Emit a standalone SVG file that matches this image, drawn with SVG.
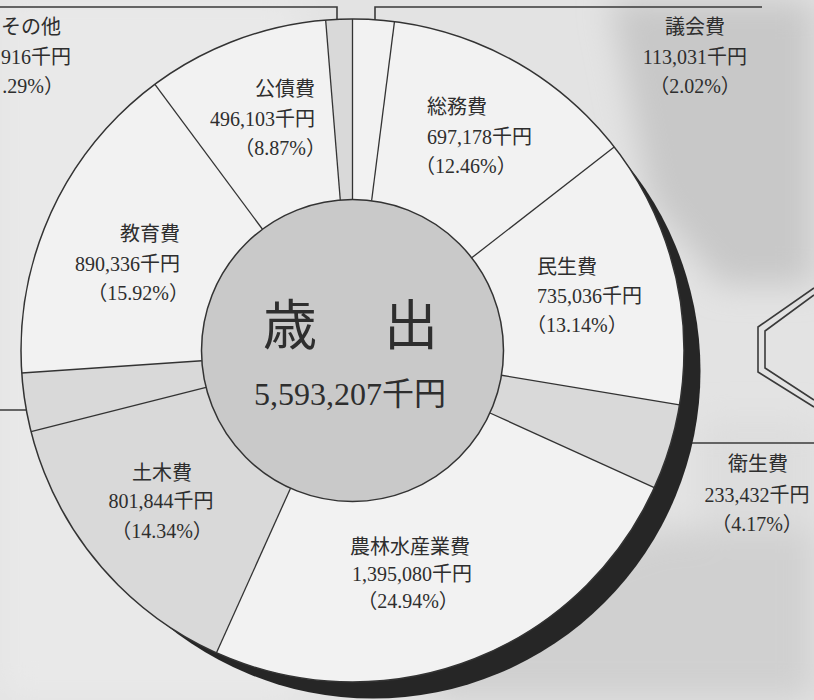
<svg xmlns="http://www.w3.org/2000/svg" width="814" height="700" viewBox="0 0 814 700">
<defs>
<filter id="blur" x="-20%" y="-20%" width="140%" height="140%"><feGaussianBlur stdDeviation="16"/></filter>
<style>
.t{font-family:"Liberation Serif","Noto Sans CJK JP",serif;font-size:20px;fill:#2e2e2e}
.m{text-anchor:middle}.e{text-anchor:end}
.ln{stroke:#333;stroke-width:1.3;fill:none}
.fr{stroke:#3a3a3a;stroke-width:1.6;fill:none}
.wh{fill:#f2f2f2}
.gr{fill:#d9d9d9}
</style>
</defs>
<rect width="814" height="700" fill="#e3e3e3"/>
<g id="background" filter="url(#blur)">
<path d="M610 0H814V285H720L650 200Z" fill="#c8c8c8"/>
<path d="M430 610L660 530H814V700H430Z" fill="#d0d0d0"/>
<rect x="700" y="420" width="114" height="110" fill="#dddddd"/>
<rect x="0" y="0" width="300" height="700" fill="#e9e9e9"/>
</g>
<g id="frames">
<polyline class="fr" points="0,7 337,7 337,30"/>
<polyline class="fr" points="375,30 375,7 762,7"/>
<line class="fr" x1="0" y1="410" x2="40" y2="410"/>
<line class="fr" x1="680" y1="443" x2="814" y2="443"/>
<polyline class="fr" points="814,288 758,327 758,372 814,407"/>
<polyline class="fr" points="814,295 765,331 765,368 814,400"/>
</g>
<g id="shadow"><circle cx="373" cy="371" r="327.5" fill="#262626"/></g>
<g id="donut">
<circle cx="352.5" cy="350.5" r="331.5" class="wh"/>
<path id="sonota-slice" class="gr" d="M325.66,20.09 A331.5,331.5 0 0 1 352.5,19 L352.5,199.5 A151,151 0 0 0 340.27,200 Z"/>
<path id="eisei-slice" class="gr" d="M679.52,404.82 A331.5,331.5 0 0 1 654.29,487.68 L489.97,412.98 A151,151 0 0 0 501.46,375.24 Z"/>
<path id="doboku-slice" class="gr" d="M216.47,652.81 A331.5,331.5 0 0 1 21.76,372.98 L201.85,360.74 A151,151 0 0 0 290.54,488.2 Z"/>
<circle cx="352.5" cy="350.5" r="331.5" fill="none" stroke="#333" stroke-width="1.5"/>
</g>
<g id="connectors">
<line class="ln" x1="352.5" y1="199.5" x2="352.5" y2="19"/>
<line class="ln" x1="371.61" y1="200.71" x2="394.46" y2="21.66"/>
<line class="ln" x1="471.7" y1="257.8" x2="614.18" y2="146.99"/>
<line class="ln" x1="501.46" y1="375.24" x2="679.52" y2="404.82"/>
<line class="ln" x1="489.97" y1="412.98" x2="654.29" y2="487.68"/>
<line class="ln" x1="290.54" y1="488.2" x2="216.47" y2="652.81"/>
<line class="ln" x1="206.08" y1="387.41" x2="31.06" y2="431.53"/>
<line class="ln" x1="201.85" y1="360.74" x2="21.76" y2="372.98"/>
<line class="ln" x1="262.5" y1="229.25" x2="154.92" y2="84.31"/>
<line class="ln" x1="340.27" y1="200" x2="325.66" y2="20.09"/>
</g>
<g id="center">
<circle cx="352.5" cy="350.5" r="151" fill="#c9c9c9" stroke="#333" stroke-width="1.5"/>
<text class="t m" x="290" y="345" style="font-size:54px">歳</text>
<text class="t m" x="411" y="345" style="font-size:54px">出</text>
<text class="t m" x="350" y="405" style="font-size:32px">5,593,207千円</text>
</g>
<g id="gikai"><text class="t m" x="695" y="34">議会費</text><text class="t m" x="695" y="64">113,031千円</text><text class="t m" x="695" y="93">（2.02%）</text></g>
<g id="sonota"><text class="t" x="1" y="34">その他</text><text class="t" x="1" y="64">916千円</text><text class="t e" x="64" y="93">.29%）</text></g>
<g id="kosai"><text class="t e" x="315" y="96">公債費</text><text class="t e" x="315" y="126">496,103千円</text><text class="t e" x="326" y="155">（8.87%）</text></g>
<g id="somu"><text class="t" x="427" y="114">総務費</text><text class="t" x="427" y="144">697,178千円</text><text class="t" x="415" y="173">（12.46%）</text></g>
<g id="kyoiku"><text class="t e" x="180" y="241">教育費</text><text class="t e" x="180" y="271">890,336千円</text><text class="t e" x="189" y="300">（15.92%）</text></g>
<g id="minsei"><text class="t" x="537" y="274">民生費</text><text class="t" x="537" y="303">735,036千円</text><text class="t" x="526" y="332">（13.14%）</text></g>
<g id="eisei"><text class="t m" x="758" y="471">衛生費</text><text class="t m" x="757" y="502">233,432千円</text><text class="t m" x="757" y="531">（4.17%）</text></g>
<g id="doboku"><text class="t m" x="162" y="480">土木費</text><text class="t m" x="161" y="508">801,844千円</text><text class="t m" x="162" y="538">（14.34%）</text></g>
<g id="norin"><text class="t m" x="410" y="554">農林水産業費</text><text class="t m" x="412" y="581">1,395,080千円</text><text class="t m" x="408" y="608">（24.94%）</text></g>
</svg>
